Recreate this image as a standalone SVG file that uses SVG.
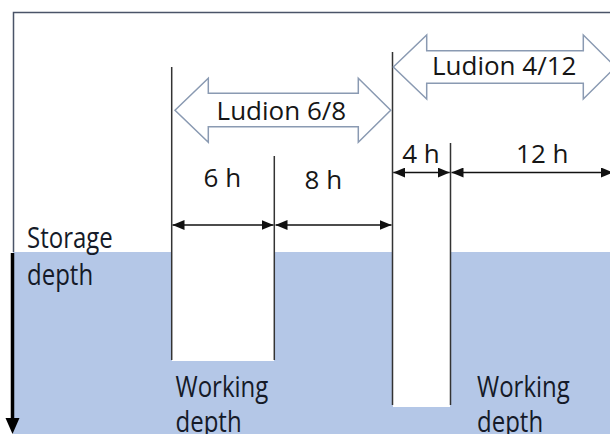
<svg xmlns="http://www.w3.org/2000/svg" width="610" height="434" viewBox="0 0 610 434">
<style>
.lbl{font-family:"Open Sans","Noto Sans","Liberation Sans",sans-serif;font-size:26px;fill:#161616}
.big{font-family:"Open Sans","Noto Sans","Liberation Sans",sans-serif;font-size:24px;fill:#151a28}
.vl{stroke:#333;stroke-width:1.5;fill:none}
.dim{stroke:#111;stroke-width:1.5;fill:none;marker-start:url(#ah);marker-end:url(#ah)}
.blk{fill:#fff;stroke:#8a9ab2;stroke-width:1.5}
</style>
<defs>
<marker id="ah" viewBox="0 0 12 10" refX="12" refY="5" markerWidth="12" markerHeight="10" markerUnits="userSpaceOnUse" orient="auto-start-reverse">
<path d="M0,0 L12,5 L0,10 z" fill="#111"/>
</marker>
</defs>
<rect width="610" height="434" fill="#fff"/>
<g id="frame">
<path d="M13.5,252 V12.5 H612" fill="none" stroke="#4a5468" stroke-width="1.5"/>
</g>
<g id="water">
<rect x="13" y="252" width="600" height="184" fill="#b4c7e7"/>
</g>
<g id="ludion68-body">
<rect x="172" y="252" width="102" height="109" fill="#fff"/>
</g>
<g id="ludion412-body">
<rect x="393" y="252" width="57" height="155" fill="#fff"/>
</g>
<g id="connectors">
<line class="vl" x1="171.7" y1="67" x2="171.7" y2="360"/>
<line class="vl" x1="274.3" y1="156" x2="274.3" y2="360"/>
<line class="vl" x1="392.5" y1="52" x2="392.5" y2="405"/>
<line class="vl" x1="450.5" y1="143" x2="450.5" y2="405"/>
<line class="dim" x1="172.5" y1="225" x2="273.5" y2="225"/>
<line class="dim" x1="275.5" y1="225" x2="391.5" y2="225"/>
<line class="dim" x1="393.3" y1="172.5" x2="449.7" y2="172.5"/>
<line class="dim" x1="451.5" y1="172.5" x2="613" y2="172.5"/>
<g id="depth-arrow">
<line x1="12.5" y1="253" x2="12.5" y2="420" stroke="#000" stroke-width="3.5"/>
<path d="M5.5,418 L12.5,434 L19.5,418 z" fill="#000"/>
</g>
</g>
<g id="ludion68-arrow">
<path class="blk" d="M175,110.3 L208.3,78.3 L208.3,93.3 L358.3,93.3 L358.3,78.3 L390.7,110.3 L358.3,142.3 L358.3,126.7 L208.3,126.7 L208.3,142.3 z"/>
<text class="lbl" x="281.4" y="120" text-anchor="middle">Ludion 6/8</text>
</g>
<g id="ludion412-arrow">
<path class="blk" d="M393.3,67 L426.7,35 L426.7,50.7 L583.3,50.7 L583.3,35 L615.5,67 L583.3,99 L583.3,83.3 L426.7,83.3 L426.7,99 z"/>
<text class="lbl" x="504.2" y="75" text-anchor="middle">Ludion 4/12</text>
</g>
<g id="labels">
<text class="lbl" x="222.4" y="187" text-anchor="middle">6 h</text>
<text class="lbl" x="323.4" y="188.5" text-anchor="middle">8 h</text>
<text class="lbl" x="421" y="163" text-anchor="middle">4 h</text>
<text class="lbl" x="542.3" y="163" text-anchor="middle">12 h</text>
<text class="big" transform="translate(27,248) scale(1,1.2)"><tspan x="0" y="0">Storage</tspan><tspan x="0" dy="30.8">depth</tspan></text>
<text class="big" transform="translate(175.5,397) scale(1,1.2)"><tspan x="0" y="0">Working</tspan><tspan x="0" dy="29.2">depth</tspan></text>
<text class="big" transform="translate(477,397) scale(1,1.2)"><tspan x="0" y="0">Working</tspan><tspan x="0" dy="29.2">depth</tspan></text>
</g>
</svg>
